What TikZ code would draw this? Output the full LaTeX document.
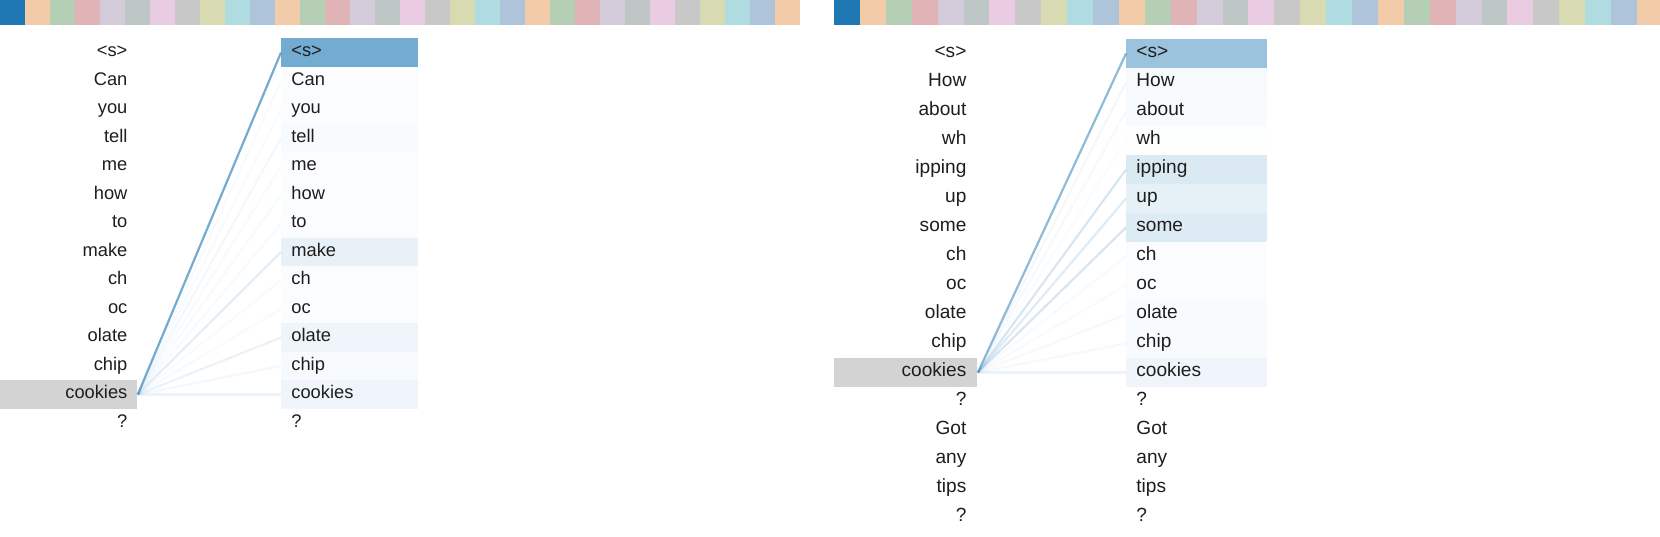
\documentclass[tikz,border=0pt]{standalone}
\usepackage{fontspec}
\setmainfont{Liberation Sans}
\definecolor{hb}{HTML}{1F77B4}
\definecolor{cb0}{HTML}{ADC4DA}
\definecolor{cb1}{HTML}{F2CBA8}
\definecolor{cb2}{HTML}{B4CFB4}
\definecolor{cb3}{HTML}{E0B4B6}
\definecolor{cb4}{HTML}{D3CBD9}
\definecolor{cb5}{HTML}{BFC6C6}
\definecolor{cb6}{HTML}{EACCE2}
\definecolor{cb7}{HTML}{C8C8C8}
\definecolor{cb8}{HTML}{D8DAB1}
\definecolor{cb9}{HTML}{AEDCE0}
\definecolor{qgray}{HTML}{D3D3D3}
\definecolor{tok}{HTML}{1E1E1E}
\begin{document}
\begin{tikzpicture}[x=0.5pt,y=-0.5pt,
  tokbase/.style={inner xsep=0pt, inner ysep=0pt, text=tok, text height=0.9em, text depth=0.5em},
  lkeyL/.style={tokbase, anchor=west, font=\fontsize{9.15}{11}\selectfont, text width=68.5pt, minimum height=14.25pt, align=right},
  rkeyL/.style={tokbase, anchor=west, font=\fontsize{9.15}{11}\selectfont, text width=68.5pt, minimum height=14.25pt, align=left},
  lkeyR/.style={tokbase, anchor=west, font=\fontsize{9.55}{11.5}\selectfont, text width=71.5pt, minimum height=14.5pt, align=right},
  rkeyR/.style={tokbase, anchor=west, font=\fontsize{9.55}{11.5}\selectfont, text width=70.5pt, minimum height=14.5pt, align=left},
  attn/.style={draw=hb, line width=1.1pt}
]
\useasboundingbox (0,0) rectangle (1660,536);
% head selector bars
\begin{scope}
\clip (0,0) rectangle (1660,536);
\foreach \i in {0,...,31}{
  \pgfmathtruncatemacro\m{mod(\i,10)}
  \fill[cb\m] ({25*\i},0) rectangle ({25*\i+25},25);
  \fill[cb\m] ({834+25.9*\i},0) rectangle ({834+25.9*\i+25.9},25);
}
\fill[hb] (0,0) rectangle (25,25);
\fill[hb] (834,0) rectangle (859.9,25);
\end{scope}

% ---------- left panel ----------
\foreach \t/\g [count=\i from 0] in {<s>/white,Can/white,you/white,tell/white,me/white,how/white,to/white,make/white,ch/white,oc/white,olate/white,chip/white,cookies/qgray,?/white}{
  \node[lkeyL, fill=\g] (A\i) at (0,{52.5+28.5*\i}) {\t\hspace*{5pt}};
}
\foreach \t/\a [count=\i from 0] in {<s>/62,Can/2,you/2,tell/3,me/2,how/2,to/2,make/10,ch/2,oc/2,olate/7,chip/4,cookies/7,?/0}{
  \node[rkeyL, fill=hb!\a!white] (B\i) at (281,{52.5+28.5*\i}) {\hspace*{5pt}\t};
}
\foreach \j/\a in {1/0.03,2/0.03,3/0.05,4/0.03,5/0.03,6/0.03,8/0.03,9/0.03,11/0.05,12/0.08,10/0.09,7/0.12,0/0.62}{
  \draw[attn, draw opacity=\a] (A12.east) -- (B\j.west);
}

% ---------- right panel ----------
\foreach \t/\g [count=\i from 0] in {<s>/white,How/white,about/white,wh/white,ipping/white,up/white,some/white,ch/white,oc/white,olate/white,chip/white,cookies/qgray,?/white,Got/white,any/white,tips/white,?/white}{
  \node[lkeyR, fill=\g] (C\i) at (834,{53.5+29*\i}) {\t\hspace*{5.5pt}};
}
\foreach \t/\a [count=\i from 0] in {<s>/44,How/4,about/3,wh/1,ipping/16,up/11,some/15,ch/2,oc/2,olate/3,chip/3,cookies/7,?/0,Got/0,any/0,tips/0,?/0}{
  \node[rkeyR, fill=hb!\a!white] (D\i) at (1126,{53.5+29*\i}) {\hspace*{5pt}\t};
}
\foreach \j/\a in {1/0.05,2/0.04,3/0.02,7/0.03,8/0.03,9/0.04,10/0.04,11/0.08,5/0.14,4/0.18,6/0.18,0/0.5}{
  \draw[attn, draw opacity=\a] (C11.east) -- (D\j.west);
}
\end{tikzpicture}
\end{document}
